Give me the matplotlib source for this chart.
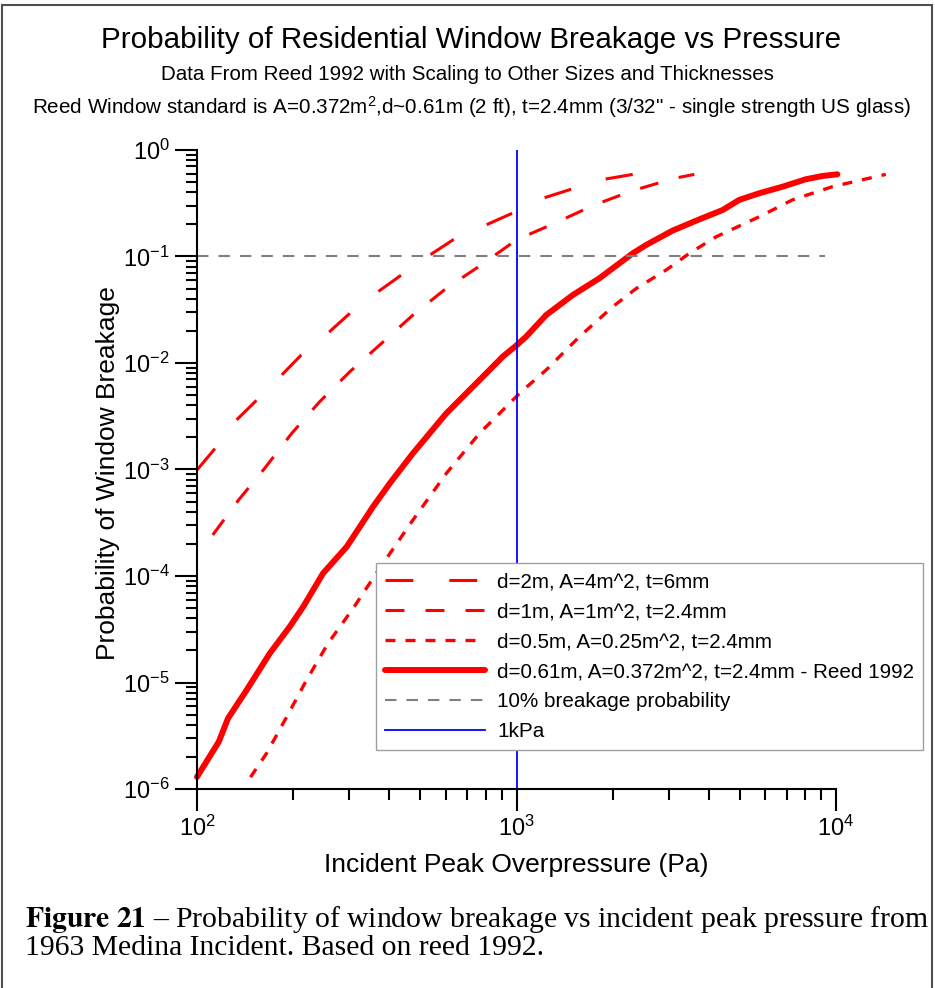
import numpy as np
import matplotlib
matplotlib.use('Agg')
import matplotlib.pyplot as plt
from matplotlib.ticker import LogLocator, NullFormatter, LogFormatterSciNotation
from matplotlib.patches import Rectangle

plt.rcParams['font.family'] = ['Liberation Sans', 'DejaVu Sans']
plt.rcParams['mathtext.fontset'] = 'custom'
plt.rcParams['mathtext.rm'] = 'Liberation Sans'
plt.rcParams['mathtext.it'] = 'Liberation Sans:italic'
plt.rcParams['mathtext.bf'] = 'Liberation Sans:bold'

# --- data (pressure in Pa, probability) ---
p_d2 = [100, 114, 133, 154, 184, 212, 260, 301, 369, 436, 535, 632, 804, 973, 1208, 1481, 1884, 2309]
pb_d2 = [9.9e-4, 1.58e-3, 2.92e-3, 4.5e-3, 7.7e-3, 1.19e-2, 1.97e-2, 2.93e-2, 4.68e-2, 6.7e-2,
         0.103, 0.143, 0.198, 0.256, 0.352, 0.428, 0.531, 0.59]

p_d1 = [112, 135, 163, 198, 242, 301, 378, 474, 603, 775, 998, 1315, 1753, 2309, 3117, 3600]
pb_d1 = [2.43e-4, 5.18e-4, 1.03e-3, 2.19e-3, 4.33e-3, 8.3e-3, 1.53e-2, 2.82e-2, 5.03e-2, 8.32e-2,
         0.143, 0.205, 0.305, 0.415, 0.542, 0.59]

p_d05 = [147, 165, 191, 220, 257, 308, 364, 474, 603, 766, 929, 1021, 1238, 1574, 2001, 2367,
         2937, 3473, 4210, 5745, 7300, 9730, 14300]
pb_d05 = [1.29e-6, 2.16e-6, 4.78e-6, 1.05e-5, 2.33e-5, 4.97e-5, 1.06e-4, 3.36e-4, 9.2e-4, 2.19e-3,
          3.89e-3, 5.19e-3, 8.6e-3, 1.77e-2, 3.38e-2, 5.0e-2, 7.46e-2, 0.107, 0.153, 0.236,
          0.340, 0.452, 0.59]

p_reed = [100, 117, 125, 143, 169, 195, 215, 248, 294, 356, 401, 474, 603, 766, 906, 993, 1072,
          1238, 1500, 1816, 2309, 2541, 3078, 3730, 4414, 4977, 5745, 6796, 8040, 9062, 10090]
pb_reed = [1.30e-6, 2.78e-6, 4.6e-6, 8.5e-6, 1.88e-5, 3.34e-5, 5.15e-5, 1.06e-4, 1.88e-4, 4.5e-4,
           7.4e-4, 1.42e-3, 3.37e-3, 6.92e-3, 1.15e-2, 1.44e-2, 1.77e-2, 2.82e-2, 4.35e-2, 6.24e-2,
           0.107, 0.128, 0.175, 0.223, 0.273, 0.34, 0.392, 0.452, 0.531, 0.570, 0.591]

p_10pct = [100, 9200]
pb_10pct = [0.1, 0.1]
p_1kpa = 1000

labels = ['d=2m, A=4m^2, t=6mm',
          'd=1m, A=1m^2, t=2.4mm',
          'd=0.5m, A=0.25m^2, t=2.4mm',
          'd=0.61m, A=0.372m^2, t=2.4mm - Reed 1992',
          '10% breakage probability',
          '1kPa']

fig = plt.figure(figsize=(9.35, 9.88), dpi=100)
ax = fig.add_axes([0.2107, 0.2014, 0.7519, 0.6468])

lw = 2.2
ax.plot(p_d2, pb_d2, color='#ff0000', lw=lw, ls=(0, (9.1, 11.8)), label=labels[0], clip_on=False)
ax.plot(p_d1, pb_d1, color='#ff0000', lw=lw, ls=(0, (6.2, 6.9)), label=labels[1], clip_on=False)
ax.plot(p_d05, pb_d05, color='#ff0000', lw=2.4, ls=(0, (3.0, 3.0)), label=labels[2], clip_on=False)
ax.plot(p_reed, pb_reed, color='#ff0000', lw=4.3, solid_capstyle='round', solid_joinstyle='round',
        label=labels[3], clip_on=False)
ax.plot(p_10pct, pb_10pct, color='#808080', lw=1.5, ls=(0, (5.5, 4.8)), label=labels[4])
ax.plot([p_1kpa, p_1kpa], [1e-6, 1], color='#0000ff', lw=1.3, label=labels[5])

ax.set_xscale('log')
ax.set_yscale('log')
ax.set_xlim(100, 10 ** 4.2)
ax.set_ylim(1e-6, 1)

for s in ['top', 'right']:
    ax.spines[s].set_visible(False)
ax.spines['bottom'].set_bounds(100, 1e4)
for s in ['left', 'bottom']:
    ax.spines[s].set_linewidth(1.5)

ax.xaxis.set_major_locator(LogLocator(base=10, numticks=10))
ax.xaxis.set_minor_locator(LogLocator(base=10, subs=np.arange(2, 10), numticks=20))
ax.yaxis.set_major_locator(LogLocator(base=10, numticks=10))
ax.yaxis.set_minor_locator(LogLocator(base=10, subs=np.arange(2, 10), numticks=20))
ax.xaxis.set_major_formatter(LogFormatterSciNotation())
ax.yaxis.set_major_formatter(LogFormatterSciNotation())
ax.xaxis.set_minor_formatter(NullFormatter())
ax.yaxis.set_minor_formatter(NullFormatter())
ax.tick_params(which='major', direction='out', length=16, width=1.5, labelsize=17, pad=3.5)
ax.tick_params(which='minor', direction='out', length=8, width=1.5)

ax.set_xlabel('Incident Peak Overpressure (Pa)', fontsize=19, va='center')
ax.xaxis.set_label_coords(516 / 935, 1 - 865 / 988, transform=fig.transFigure)
ax.set_ylabel('Probability of Window Breakage', fontsize=19, va='center')
ax.yaxis.set_label_coords(108 / 935, 1 - 473 / 988, transform=fig.transFigure)

leg = ax.legend(loc='upper left', bbox_to_anchor=(376 / 935, 1 - 563 / 988),
                bbox_transform=fig.transFigure, borderaxespad=0, fontsize=14.9,
                handlelength=4.8, handletextpad=0.6, labelspacing=0.53, borderpad=0.45,
                fancybox=False, framealpha=1)
leg.get_frame().set_edgecolor('#a0a0a0')
leg.get_frame().set_linewidth(1.0)

fig.text(0.504, 1 - 40 / 988, 'Probability of Residential Window Breakage vs Pressure',
         ha='center', va='center', fontsize=21.3)
fig.text(0.5, 1 - 75 / 988, 'Data From Reed 1992 with Scaling to Other Sizes and Thicknesses',
         ha='center', va='center', fontsize=14.8)
fig.text(0.504, 1 - 107 / 988,
         'Reed Window standard is A=0.372m$^2$,d~0.61m (2 ft), t=2.4mm (3/32" - single strength US glass)',
         ha='center', va='center', fontsize=14.9)

# caption below the chart (bold label via STIX math font, Times-like)
caption = (r'$\mathbf{Figure\ 21}$ ' '\u2013'
           ' Probability of window breakage vs incident peak pressure from'
           '\n1963 Medina Incident. Based on reed 1992.')
# baseline alignment of a multi-line text refers to its last line
fig.text(25 / 935, 1 - 955 / 988, caption, fontsize=21.3, family='Liberation Serif',
         math_fontfamily='stix', ha='left', va='baseline', linespacing=1.02)

fig.add_artist(Rectangle((2 / 935, -0.01), 930 / 935, 1.01 - 5 / 988, transform=fig.transFigure,
                         fill=False, edgecolor='#505050', lw=1.5))

fig.savefig('out.png', dpi=100)
